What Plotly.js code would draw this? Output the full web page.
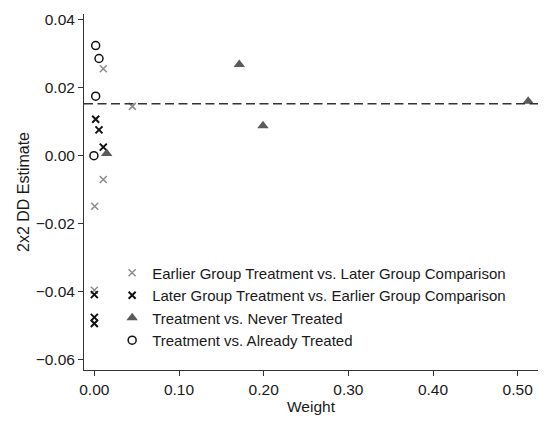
<!DOCTYPE html>
<html>
<head>
<meta charset="utf-8">
<script src="https://cdn.plot.ly/plotly-3.0.1.min.js"></script>
<style>html,body{margin:0;padding:0;background:#fff;}#chart{width:550px;height:422px;}</style>
</head>
<body>
<div id="chart"></div>
<script>
// Earlier Group Treatment vs. Later Group Comparison
const earlierW = [0.0106, 0.0449, 0.0106, 0.0005, 0.0000];
const earlierE = [0.0256, 0.0145, -0.0070, -0.0149, -0.0396];
// Later Group Treatment vs. Earlier Group Comparison
const laterW = [0.0016, 0.0055, 0.0106, 0.0000, 0.0000, 0.0000];
const laterE = [0.0107, 0.0076, 0.0025, -0.0409, -0.0476, -0.0494];
// Treatment vs. Never Treated
const neverW = [0.0146, 0.1712, 0.1992, 0.5124];
const neverE = [0.0006, 0.0268, 0.0088, 0.0160];
// Treatment vs. Already Treated
const alreadyW = [0.0016, 0.0055, 0.0016, -0.0005];
const alreadyE = [0.0324, 0.0286, 0.0175, 0.0000];
// Overall DD estimate (dashed line)
const overallDD = 0.0153;

const names = [
  "Earlier Group Treatment vs. Later Group Comparison",
  "Later Group Treatment vs. Earlier Group Comparison",
  "Treatment vs. Never Treated",
  "Treatment vs. Already Treated"
];
const xTicks = [0, 0.1, 0.2, 0.3, 0.4, 0.5];
const yTicks = [-0.06, -0.04, -0.02, 0, 0.02, 0.04];

const FONT = "Liberation Sans, Arial, sans-serif";

const traces = [
  {x: earlierW, y: earlierE, name: names[0], type: "scatter", mode: "markers",
   marker: {symbol: "x-thin-open", size: 7, line: {color: "#8c8c8c", width: 1.5}, color: "#8c8c8c"}},
  {x: laterW, y: laterE, name: names[1], type: "scatter", mode: "markers",
   marker: {symbol: "x-thin-open", size: 7, line: {color: "#111", width: 2}, color: "#111"}},
  {x: neverW, y: neverE, name: names[2], type: "scatter", mode: "markers",
   marker: {symbol: "triangle-up", size: 10, color: "#5a5a5a", line: {width: 0}}},
  {x: alreadyW, y: alreadyE, name: names[3], type: "scatter", mode: "markers",
   marker: {symbol: "circle-open", size: 8, color: "#111", line: {color: "#111", width: 1.5}}}
];

const axisCommon = {
  showgrid: false, zeroline: false, showline: true, linecolor: "#333", linewidth: 1,
  ticks: "outside", ticklen: 5, tickcolor: "#333", tickwidth: 1,
  tickfont: {family: FONT, size: 15.5, color: "#1a1a1a"},
  tickformat: ".2f"
};

const layout = {
  width: 550, height: 422,
  margin: {l: 84, r: 12, t: 14, b: 52},
  paper_bgcolor: "#fff", plot_bgcolor: "#fff",
  font: {family: FONT, size: 15.5, color: "#1a1a1a"},
  xaxis: Object.assign({}, axisCommon, {
    range: [-0.0122, 0.524], tickvals: xTicks,
    title: {text: "Weight", font: {size: 15.5, color: "#1a1a1a"}, standoff: 3}
  }),
  yaxis: Object.assign({}, axisCommon, {
    range: [-0.0631, 0.0417], tickvals: yTicks,
    title: {text: "2x2 DD Estimate", font: {size: 16, color: "#1a1a1a"}, standoff: 2}
  }),
  shapes: [{
    type: "line", xref: "paper", x0: 0, x1: 1, yref: "y", y0: overallDD, y1: overallDD,
    line: {color: "#333", width: 1.5, dash: "9px,4.5px"}
  }],
  legend: {
    x: 0.062, y: 0.319, xanchor: "left", yanchor: "top",
    bgcolor: "rgba(0,0,0,0)", borderwidth: 0,
    font: {family: FONT, size: 15, color: "#1a1a1a"}, tracegroupgap: 0
  },
  showlegend: true
};

Plotly.newPlot("chart", traces, layout, {staticPlot: true, displayModeBar: false});
</script>
</body>
</html>
